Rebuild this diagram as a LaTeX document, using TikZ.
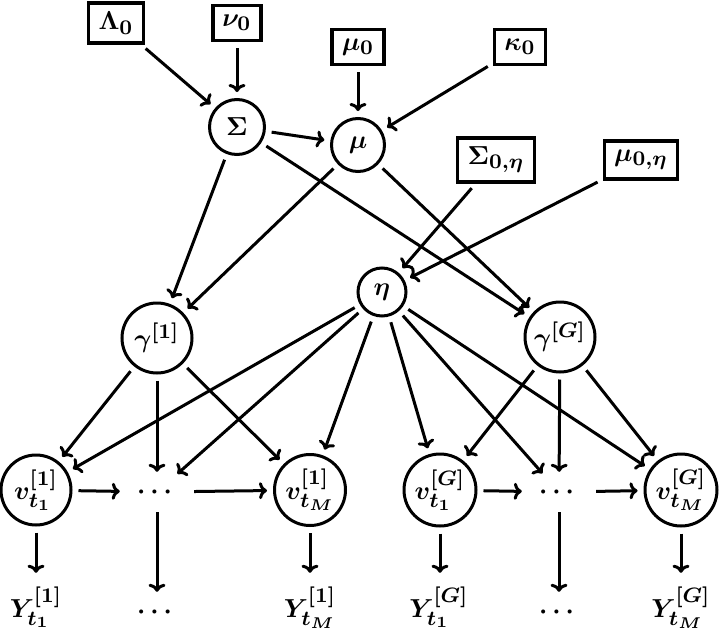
\documentclass[tikz,border=0pt]{standalone}
\usepackage{amsmath}
\usepackage{graphicx}
\usetikzlibrary{arrows.meta}
\DeclareMathSizes{10}{10}{8}{6}
\newcommand\lbl[1]{\scalebox{2.6}{\fontsize{10}{12}\selectfont\boldmath$#1$}}
\begin{document}
\begin{tikzpicture}[x=1pt,y=-1pt,
  hyper/.style={draw,line width=3.2pt,rectangle,inner sep=0pt},
  var/.style={draw,circle,line width=3pt,inner sep=0pt},
  dotsnode/.style={rectangle,minimum width=62pt,minimum height=28pt,inner sep=0pt},
  obs/.style={rectangle,inner sep=0pt,anchor=base},
  edge/.style={line width=3pt,-{To[length=8pt,width=17pt]},shorten >=6pt,shorten <=6pt},
  toobs/.style={edge,shorten >=14pt}
]
\useasboundingbox (0,0) rectangle (720,632);
% hyperparameters
\node[hyper,minimum width=55pt,minimum height=40pt] (L0) at (116,23) {\lbl{\Lambda_0}};
\node[hyper,minimum width=48pt,minimum height=35pt] (n0) at (237,23) {\lbl{\nu_0}};
\node[hyper,minimum width=52pt,minimum height=35pt] (m0) at (358,47) {\lbl{\mu_0}};
\node[hyper,minimum width=51pt,minimum height=35pt] (k0) at (520,47) {\lbl{\kappa_0}};
\node[hyper,minimum width=77pt,minimum height=44pt] (S0e) at (496,160) {\lbl{\Sigma_{0,\eta}}};
\node[hyper,minimum width=73pt,minimum height=38pt] (m0e) at (641,160) {\lbl{\mu_{0,\eta}}};
% latent
\node[var,minimum size=55pt] (Sig) at (237,127) {\lbl{\Sigma}};
\node[var,minimum size=53pt] (mu) at (358,145) {\lbl{\mu}};
\node[var,minimum size=48pt] (eta) at (382,292) {\lbl{\eta}};
\node[var,minimum size=70pt] (g1) at (157,338) {\lbl{\gamma^{[1]}}};
\node[var,minimum size=70pt] (gG) at (560,337) {\lbl{\gamma^{[G]}}};
% time series
\node[var,minimum size=70pt] (v11) at (36,490) {\lbl{v^{[1]}_{t_1}}};
\node[dotsnode] (d1) at (157,492) {\lbl{\cdots}};
\node[var,minimum size=71pt] (v1M) at (310,490) {\lbl{v^{[1]}_{t_M}}};
\node[var,minimum size=72pt] (vG1) at (440,490) {\lbl{v^{[G]}_{t_1}}};
\node[dotsnode] (dG) at (559,492) {\lbl{\cdots}};
\node[var,minimum size=72pt] (vGM) at (681,490) {\lbl{v^{[G]}_{t_M}}};
% observations
\node[obs] (y11) at (36,617) {\lbl{Y^{[1]}_{t_1}}};
\node[dotsnode] (yd1) at (157,612) {\lbl{\cdots}};
\node[obs] (y1M) at (310,617) {\lbl{Y^{[1]}_{t_M}}};
\node[obs] (yG1) at (439,617) {\lbl{Y^{[G]}_{t_1}}};
\node[dotsnode] (ydG) at (559,612) {\lbl{\cdots}};
\node[obs] (yGM) at (681,617) {\lbl{Y^{[G]}_{t_M}}};
% edges
\draw[edge] (L0) -- (Sig);
\draw[edge] (n0) -- (Sig);
\draw[edge] (Sig) -- (mu);
\draw[edge] (m0) -- (mu);
\draw[edge] (k0) -- (mu);
\draw[edge] (Sig) -- (g1);
\draw[edge] (Sig) -- (gG);
\draw[edge] (mu) -- (g1);
\draw[edge] (mu) -- (gG);
\draw[edge] (S0e) -- (eta);
\draw[edge] (m0e) -- (eta);
\draw[edge] (g1) -- (v11);
\draw[edge] (g1) -- (d1);
\draw[edge] (g1) -- (v1M);
\draw[edge] (gG) -- (vG1);
\draw[edge] (gG) -- (dG);
\draw[edge] (gG) -- (vGM);
\draw[edge] (eta) -- (v11);
\draw[edge] (eta) -- (d1);
\draw[edge] (eta) -- (v1M);
\draw[edge] (eta) -- (vG1);
\draw[edge] (eta) -- (dG);
\draw[edge] (eta) -- (vGM);
\draw[edge] (v11) -- (d1);
\draw[edge] (d1) -- (v1M);
\draw[edge] (vG1) -- (dG);
\draw[edge] (dG) -- (vGM);
\draw[toobs] (v11) -- (v11 |- y11.north);
\draw[edge] (d1) -- (yd1);
\draw[toobs] (v1M) -- (v1M |- y1M.north);
\draw[toobs] (vG1) -- (vG1 |- yG1.north);
\draw[edge] (dG) -- (ydG);
\draw[toobs] (vGM) -- (vGM |- yGM.north);
\end{tikzpicture}
\end{document}
